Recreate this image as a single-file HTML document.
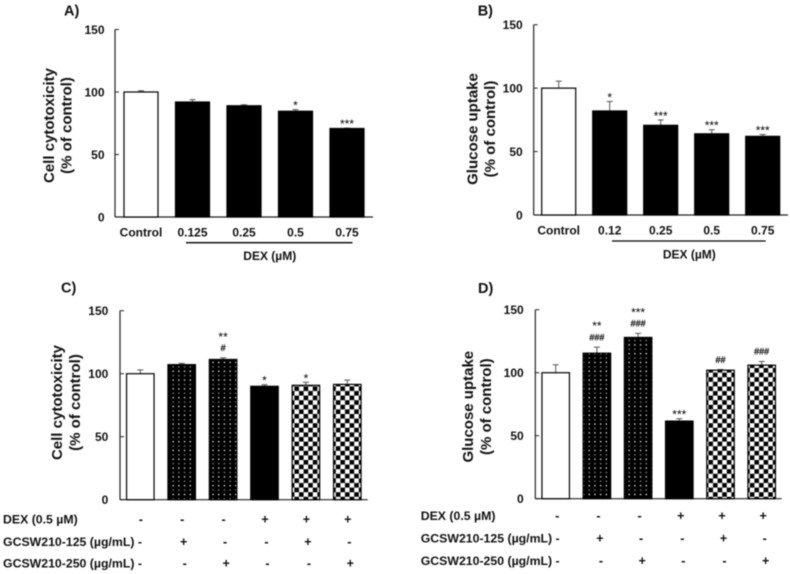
<!DOCTYPE html>
<html lang="en">
<head>
<meta charset="utf-8">
<title>DEX and GCSW210 bar charts</title>
<style>
html,body{margin:0;padding:0;background:#fff;width:790px;height:574px;overflow:hidden}
svg{display:block;filter:blur(0.4px)}
text{font-family:"Liberation Sans",sans-serif;font-weight:bold;fill:#111}
text.mark{font-weight:normal;fill:#000}
</style>
</head>
<body>
<svg id="chart" xmlns="http://www.w3.org/2000/svg" width="790" height="574" viewBox="0 0 790 574">
<defs>
<pattern id="dots" patternUnits="userSpaceOnUse" width="5.7" height="8.8">
<rect width="5.7" height="8.8" fill="#000"/>
<rect x="1.5" y="1" width="1.3" height="1.3" fill="#fff"/>
<rect x="1.5" y="5.4" width="1.3" height="1.3" fill="#999"/>
</pattern>
<pattern id="check" patternUnits="userSpaceOnUse" width="9.2" height="9.2">
<rect width="9.2" height="9.2" fill="#fff"/>
<rect width="4.6" height="4.6" fill="#000"/>
<rect x="4.6" y="4.6" width="4.6" height="4.6" fill="#000"/>
</pattern>
</defs>
</svg>
<script>
// Panel A
const categoriesA = ['Control', '0.125', '0.25', '0.5', '0.75'];
const valuesA = [100, 92, 89, 84.6, 70.8];
const errorsA = [1, 1.9, 0.8, 1.3, 0.3];
const starsA = ['', '', '', '*', '***'];
const hashesA = ['', '', '', '', ''];
const fillsA = ['white', 'black', 'black', 'black', 'black'];
// Panel B
const categoriesB = ['Control', '0.12', '0.25', '0.5', '0.75'];
const valuesB = [100, 82, 70.7, 64, 62];
const errorsB = [5.5, 7.5, 4.2, 3.2, 1.5];
const starsB = ['', '*', '***', '***', '***'];
const hashesB = ['', '', '', '', ''];
const fillsB = ['white', 'black', 'black', 'black', 'black'];
// Panel C
const valuesC = [100, 107.2, 111.3, 90, 90.8, 91.5];
const errorsC = [3, 1, 1.3, 1.3, 2.4, 3.4];
const starsC = ['', '', '**', '*', '*', ''];
const hashesC = ['', '', '#', '', '', ''];
const fillsC = ['white', 'url(#dots)', 'url(#dots)', 'black', 'url(#check)', 'url(#check)'];
// Panel D
const valuesD = [100, 115.5, 128, 61.6, 102, 106];
const errorsD = [6.3, 4.8, 3.2, 1.9, 0.5, 2.9];
const starsD = ['', '**', '***', '***', '', ''];
const hashesD = ['', '###', '###', '', '##', '###'];
const fillsD = ['white', 'url(#dots)', 'url(#dots)', 'black', 'url(#check)', 'url(#check)'];
// Shared
const yTicks = [0, 50, 100, 150];
const treatmentLabels = ['DEX (0.5 µM)', 'GCSW210-125 (µg/mL) -', 'GCSW210-250 (µg/mL) -'];
const dexSigns = ['-', '-', '-', '+', '+', '+'];
const low125Signs = ['', '+', '-', '-', '+', '-'];
const high250Signs = ['', '-', '+', '-', '-', '+'];

const svg = document.getElementById('chart');
const NS = 'http://www.w3.org/2000/svg';

function make(parent, tag, props, content) {
  const node = document.createElementNS(NS, tag);
  for (const key in props) node.setAttribute(key, props[key]);
  if (content !== undefined) node.textContent = content;
  parent.appendChild(node);
  return node;
}

function drawPanel(g) {
  const panel = make(svg, 'g', {});
  
  

  const yScale = v => g.y0 - (v / 150) * (g.y0 - g.y150);
  const xScale = i => g.first + i * g.step;

  const letter = make(panel, 'text', {x: g.letterX, y: g.letterY, 'font-size': 14.5}, g.id + ')');
  
  

  const yAxis = make(panel, 'line', {x1: g.axisX, x2: g.axisX, y1: yScale(150), y2: g.y0, stroke: '#222', 'stroke-width': 1.2});
  
  

  const xAxis = make(panel, 'line', {x1: g.axisX, x2: g.axisEnd, y1: g.y0, y2: g.y0, stroke: '#222', 'stroke-width': 1.2});
  
  

  yTicks.forEach(t => {
    const tick = make(panel, 'line', {x1: g.axisX, x2: g.axisX + 4, y1: yScale(t), y2: yScale(t), stroke: '#222', 'stroke-width': 1});
    
    
    const label = make(panel, 'text', {x: g.tickRight, y: yScale(t) + 4.3, 'font-size': 12, 'text-anchor': 'end'}, t);
    
    
  });

  g.titles.forEach((line, i) => {
    const tx = g.titleX[i];
    const title = make(panel, 'text', {x: tx, y: g.titleY, 'font-size': 15, 'text-anchor': 'middle', transform: 'rotate(-90 ' + tx + ' ' + g.titleY + ')'}, line);
    
    
  });

  g.values.forEach((v, i) => {
    const cx = xScale(i);
    const top = yScale(v);
    const errTop = yScale(v + g.errors[i]);

    const stem = make(panel, 'line', {x1: cx, x2: cx, y1: top, y2: errTop, stroke: '#555', 'stroke-width': 1});
    
    
    const cap = make(panel, 'line', {x1: cx - 3, x2: cx + 3, y1: errTop, y2: errTop, stroke: '#555', 'stroke-width': 1});
    
    

    const bar = make(panel, 'rect', {x: cx - g.width / 2, y: top, width: g.width, height: g.y0 - top, fill: g.fills[i], stroke: '#000', 'stroke-width': 1.2});
    
    

    const hasHash = g.hashes[i] !== '';
    if (hasHash) {
      const hash = make(panel, 'text', {class: 'mark', x: cx, y: errTop - 10 + 3.2, 'font-size': 9, 'text-anchor': 'middle', stroke: '#000', 'stroke-width': 0.25}, g.hashes[i]);
      
      
    }
    if (g.stars[i] !== '') {
      const lift = hasHash ? 24 : 7;
      const star = make(panel, 'text', {class: 'mark', x: cx, y: errTop - lift + 7, 'font-size': 12, 'text-anchor': 'middle'}, g.stars[i]);
      
      
    }
  });

  if (g.categories) {
    g.categories.forEach((c, i) => {
      const label = make(panel, 'text', {x: xScale(i), y: g.catY + 4.3, 'font-size': 12, 'text-anchor': 'middle'}, c);
      
      
    });
    const rule = make(panel, 'line', {x1: g.ruleX1, x2: g.ruleX2, y1: g.ruleY, y2: g.ruleY, stroke: '#000', 'stroke-width': 1.3});
    
    
    const dex = make(panel, 'text', {x: (g.ruleX1 + g.ruleX2) / 2 + 0.5, y: g.dexY + 4.3, 'font-size': 12, 'text-anchor': 'middle'}, 'DEX (µM)');
    
    
  }

  if (g.rows) {
    treatmentLabels.forEach((name, r) => {
      const rowLabel = make(panel, 'text', {x: g.rowX, y: g.rows[r] + 4.3, 'font-size': 12.3}, name);
      
      
      [dexSigns, low125Signs, high250Signs][r].forEach((s, i) => {
        if (s === '') return;
        const sign = make(panel, 'text', {x: xScale(i) + g.signShift[r], y: g.rows[r] + 4.3, 'font-size': 12.5, 'text-anchor': 'middle'}, s);
        
        
      });
    });
  }
}

drawPanel({id: 'A', letterX: 64, letterY: 15.5, axisX: 115, axisEnd: 373, y0: 217, y150: 29.5, tickRight: 104.5,
  first: 141, step: 51.5, width: 34, values: valuesA, errors: errorsA, stars: starsA, hashes: hashesA, fills: fillsA,
  titles: ['Cell cytotoxicity', '(% of control)'], titleX: [54, 71.5], titleY: 125.5,
  categories: categoriesA, catY: 232, ruleX1: 186, ruleX2: 352.5, ruleY: 242.7, dexY: 255.5});

drawPanel({id: 'B', letterX: 477.7, letterY: 15.5, axisX: 533.7, axisEnd: 788, y0: 215, y150: 24.7, tickRight: 522.7,
  first: 558.7, step: 51, width: 34, values: valuesB, errors: errorsB, stars: starsB, hashes: hashesB, fills: fillsB,
  titles: ['Glucose uptake', '(% of control)'], titleX: [477.5, 495], titleY: 129,
  categories: categoriesB, catY: 230, ruleX1: 612, ruleX2: 765.7, ruleY: 241, dexY: 254});

drawPanel({id: 'C', letterX: 61, letterY: 292.7, axisX: 120, axisEnd: 367.7, y0: 499.7, y150: 310.7, tickRight: 108.3,
  first: 140.3, step: 41.4, width: 27.5, values: valuesC, errors: errorsC, stars: starsC, hashes: hashesC, fills: fillsC,
  titles: ['Cell cytotoxicity', '(% of control)'], titleX: [62, 80], titleY: 402.5,
  rows: [519, 541.7, 563.3], rowX: 3, signShift: [0.5, 2, 3]});

drawPanel({id: 'D', letterX: 478, letterY: 293, axisX: 535.3, axisEnd: 781.7, y0: 498.7, y150: 309.7, tickRight: 523.7,
  first: 555.7, step: 41.2, width: 27.5, values: valuesD, errors: errorsD, stars: starsD, hashes: hashesD, fills: fillsD,
  titles: ['Glucose uptake', '(% of control)'], titleX: [473, 491], titleY: 406.7,
  rows: [515.7, 538.3, 560.7], rowX: 420.7, signShift: [1.5, 3, 4]});
</script>
</body>
</html>
